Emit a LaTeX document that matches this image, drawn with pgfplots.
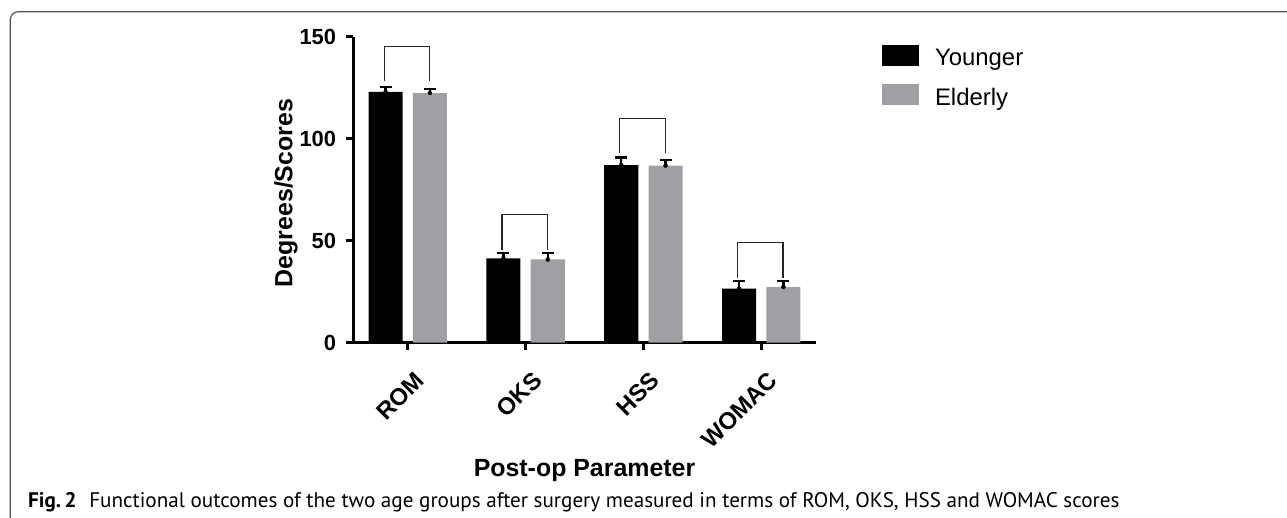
\documentclass[border=0pt]{standalone}
\usepackage{fontspec}
\setmainfont{Liberation Sans}
\newfontfamily\capfont{PT Sans}
\usepackage{pgfplots}
\pgfplotsset{compat=1.18}
\definecolor{eldgray}{RGB}{160,160,164}
\definecolor{framegray}{RGB}{80,80,80}
\begin{document}
\begin{tikzpicture}
\useasboundingbox (0,0) rectangle (1287bp,518bp);
\begin{axis}[
    at={(353bp,175.3bp)}, anchor=south west,
    scale only axis, width=463bp, height=306bp,
    xmin=-0.465, xmax=3.465, ymin=0, ymax=150,
    axis lines=left,
    axis line style={line width=3bp, -},
    bar width=0.289,
    xtick={0,1,2,3},
    xticklabels={ROM,OKS,HSS,WOMAC},
    ytick={0,50,100,150},
    tick align=outside,
    major tick length=7bp,
    tick style={line width=3bp, black},
    /pgf/number format/assume math mode=true,
    yticklabel style={font=\fontsize{22}{26}\selectfont\bfseries,
        anchor=east, inner sep=0pt, xshift=-9.7bp},
    xticklabel style={font=\fontsize{24}{28}\selectfont\bfseries,
        xshift=6bp, yshift=-20.5bp, rotate=45,
        anchor=north east, inner sep=0pt},
    xlabel={Post-op Parameter},
    xlabel style={at={(axis description cs:0.5,-0.438)}, anchor=base,
        font=\fontsize{25}{30}\selectfont\bfseries},
    ylabel={Degrees/Scores},
    ylabel style={at={(axis description cs:-0.1447,0.489)}, anchor=center,
        font=\fontsize{25}{30}\selectfont\bfseries},
    legend image code/.code={\fill[#1] (0bp,-7.8bp) rectangle (37.3bp,12.8bp);},
    legend cell align=left,
    legend style={at={(axis description cs:1.142,0.972)}, anchor=north west,
        draw=none, fill=none, inner sep=0pt, outer sep=0pt,
        row sep=17.35bp, column sep=16bp,
        font=\fontsize{24}{28}\selectfont, nodes={inner sep=0pt}},
]
% Younger
\addplot[ybar, fill=black, draw=none, bar shift=-0.188]
  coordinates {(0,122.9) (1,41.3) (2,87.1) (3,26.5)};
\addlegendentry{Younger}
% Elderly
\addplot[ybar, fill=eldgray, draw=none, bar shift=0.188]
  coordinates {(0,122.4) (1,40.8) (2,86.8) (3,27.3)};
\addlegendentry{Elderly}
% error bars (upper only)
\addplot[only marks, mark=none, black, forget plot,
    error bars/.cd, y dir=plus, y explicit, error mark=none,
    error bar style={line width=2.3bp, black}]
  coordinates {
    (-0.188,122.9) += (0,2.6)
    (0.812,41.3)   += (0,2.5)
    (1.812,87.1)   += (0,3.7)
    (2.812,26.5)   += (0,3.7)
    (0.188,122.4)  += (0,1.9)
    (1.188,40.8)   += (0,3.0)
    (2.188,86.8)   += (0,2.6)
    (3.188,27.3)   += (0,2.8)
  };
% error bar caps
\addplot[only marks, mark=-, mark size=6bp, black, forget plot,
    mark options={line width=2.3bp}]
  coordinates {
    (-0.188,125.5) (0.812,43.8) (1.812,90.8) (2.812,30.2)
    (0.188,124.3)  (1.188,43.8) (2.188,89.4) (3.188,30.1)
  };
% comparison brackets
\addplot[sharp plot, no marks, forget plot, line width=1.3bp, black!85]
  coordinates {(-0.2,128.4) (-0.2,145.1) (0.185,145.1) (0.185,128.4)};
\addplot[sharp plot, no marks, forget plot, line width=1.3bp, black!85]
  coordinates {(0.8,45.4) (0.8,62.9) (1.185,62.9) (1.185,45.4)};
\addplot[sharp plot, no marks, forget plot, line width=1.3bp, black!85]
  coordinates {(1.8,93.1) (1.8,110) (2.185,110) (2.185,93.1)};
\addplot[sharp plot, no marks, forget plot, line width=1.3bp, black!85]
  coordinates {(2.8,31.5) (2.8,49.2) (3.185,49.2) (3.185,31.5)};
\end{axis}
\draw[line width=1.2bp, framegray, rounded corners=8bp]
  (10.3bp,0bp) -- (10.3bp,506.3bp) -- (1287bp,506.3bp);
\node[anchor=base west, inner sep=0pt, font=\capfont\fontsize{21.2}{25}\selectfont]
  at (28bp,10.7bp)
  {\textbf{Fig.\,2}\hspace{0.6em}Functional outcomes of the two age groups after surgery measured in terms of ROM, OKS, HSS and WOMAC scores};
\end{tikzpicture}
\end{document}
